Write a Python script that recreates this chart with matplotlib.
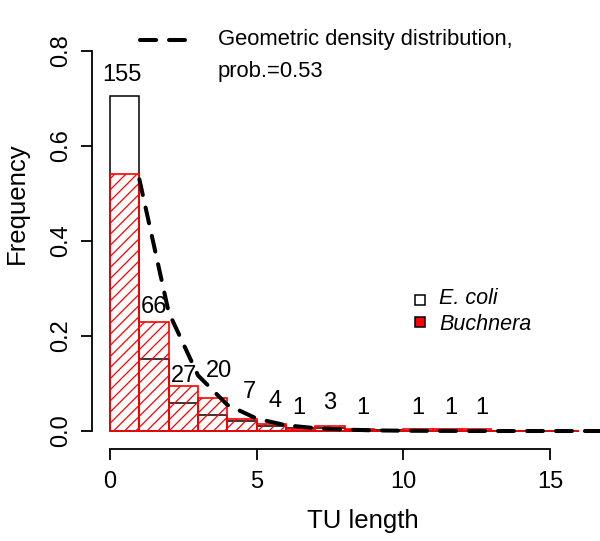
import numpy as np
import matplotlib.pyplot as plt
from matplotlib.patches import Rectangle
from matplotlib.lines import Line2D

plt.rcParams['font.family'] = ['Liberation Sans', 'DejaVu Sans']
plt.rcParams['hatch.linewidth'] = 0.9

W, H = 600, 541  # 出力サイズ(px)

# データ
bin_left = np.arange(0, 16)  # TU length の階級 (幅1)
ecoli_freq = [0.705, 0.152, 0.059, 0.034, 0.022, 0.010, 0.006, 0.006,
              0.003, 0.002, 0.001, 0.001, 0.001, 0.0, 0.001, 0.0]
buchnera_counts = [155, 66, 27, 20, 7, 4, 1, 3, 1, 0, 1, 1, 1, 0, 0, 0]
geom_x = np.arange(1, 18)
geom_y = [0.53, 0.25, 0.117, 0.055, 0.026, 0.012, 0.006, 0.003, 0.0013,
          0.0006, 0.0003, 0.0001, 0.0, 0.0, 0.0, 0.0, 0.0]
# 棒の上の件数ラベル（位置は図から読み取り）
label_text = ['155', '66', '27', '20', '7', '4', '1', '3', '1', '1', '1', '1']
label_x = [0.41, 1.5, 2.53, 3.7, 4.74, 5.63, 6.42, 7.47, 8.6, 10.5, 11.6, 12.66]
label_y = [0.749, 0.261, 0.116, 0.126, 0.082, 0.063, 0.048, 0.059, 0.048,
           0.048, 0.048, 0.048]

buch = np.array(buchnera_counts, float)
buch_freq = buch / buch.sum()

def fx(px): return px / W
def fy(py): return 1 - py / H

fig = plt.figure(figsize=(W / 100, H / 100), dpi=100)
ax = fig.add_axes([fx(92), fy(448.5), (W - 92) / W, (448.5 - 20) / H])
ax.set_xlim(-18 / 29.34, (W - 110) / 29.34)
ax.set_ylim(-17.5 / 475, 411 / 475)

ax.bar(bin_left, ecoli_freq, width=1, align='edge', facecolor='white',
       edgecolor='black', linewidth=1.1, zorder=2)
ax.bar(bin_left, buch_freq, width=1, align='edge', facecolor='none',
       edgecolor='red', hatch='///', linewidth=1.2, zorder=3)
ax.plot(geom_x, geom_y, color='black', lw=2.9, linestyle=(0, (4, 3.2)),
        dash_capstyle='round', zorder=4, clip_on=True)

for t, x, y in zip(label_text, label_x, label_y):
    ax.text(x, y, t, ha='center', va='center', fontsize=17, zorder=5)

for s in ['top', 'right']:
    ax.spines[s].set_visible(False)
ax.spines['left'].set_bounds(0, 0.8)
ax.spines['bottom'].set_bounds(0, 15)
for s in ['left', 'bottom']:
    ax.spines[s].set_linewidth(1.3)
ax.set_xticks([0, 5, 10, 15])
ax.set_yticks([0.0, 0.2, 0.4, 0.6, 0.8])
ax.set_yticklabels(['0.0', '0.2', '0.4', '0.6', '0.8'], rotation=90, va='center')
ax.tick_params(axis='both', direction='out', length=8, width=1.3, labelsize=17)
ax.tick_params(axis='x', pad=8)
ax.tick_params(axis='y', pad=6)

fig.text(fx(363), fy(528), 'TU length', ha='center', va='baseline', fontsize=18.5)
fig.text(fx(17), fy(203), 'Frequency', ha='center', va='center', rotation=90,
         fontsize=18.5)

# 凡例（幾何分布）
fig.add_artist(Line2D([fx(140), fx(185)], [fy(40), fy(40)], color='black', lw=2.9,
                      linestyle=(0, (4, 3.2)), dash_capstyle='round'))
fig.text(fx(218), fy(40), 'Geometric density distribution,', ha='left',
         va='center', fontsize=15.8)
fig.text(fx(218), fy(72), 'prob.=0.53', ha='left', va='center', fontsize=15.8)

# 凡例（E. coli / Buchnera）
fig.add_artist(Rectangle((fx(415), fy(305)), 10 / W, 10 / H, facecolor='white',
                         edgecolor='black', lw=1.1, transform=fig.transFigure))
fig.add_artist(Rectangle((fx(415), fy(327)), 10 / W, 10 / H, facecolor='red',
                         edgecolor='black', lw=1.1, transform=fig.transFigure))
fig.text(fx(439), fy(298), 'E. coli', ha='left', va='center', fontsize=15.5,
         style='italic')
fig.text(fx(439), fy(324), 'Buchnera', ha='left', va='center', fontsize=15.5,
         style='italic')

fig.savefig('out.png', dpi=100)
